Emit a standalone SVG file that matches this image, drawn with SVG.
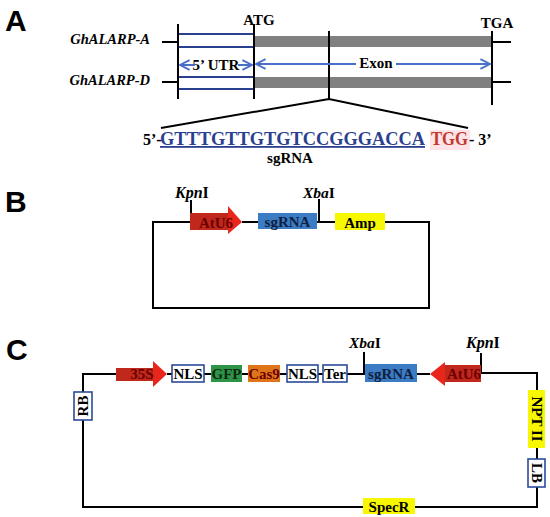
<svg xmlns="http://www.w3.org/2000/svg" width="550" height="517" viewBox="0 0 550 517">
<style>
.lbl{font-family:"Liberation Sans",Arial,sans-serif;font-weight:bold;font-size:30px;fill:#000}
.t{font-family:"Liberation Serif","Times New Roman",serif;font-weight:bold;font-size:15px;fill:#000}
.ti{font-family:"Liberation Serif","Times New Roman",serif;font-weight:bold;font-style:italic;font-size:14.5px;fill:#000}
.ln{stroke:#000;stroke-width:2;fill:none}
.bl{stroke:#2b3f8f;stroke-width:2}
.ar{stroke:#4a6fc8;stroke-width:2;fill:none}
.box{stroke:#2b4a9a;stroke-width:1.6;fill:#fff}
.yl{fill:#f7f700}
</style>
<defs>
<marker id="ah" viewBox="0 0 10 10" refX="9" refY="5" markerWidth="6" markerHeight="6" orient="auto-start-reverse">
<path d="M1,1 L9,5 L1,9" fill="none" stroke="#4a6fc8" stroke-width="1.6"/>
</marker>
</defs>
<text class="lbl" x="5" y="31">A</text>
<text class="lbl" x="5" y="212">B</text>
<text class="lbl" x="6" y="360">C</text>

<g id="panelA">
<g id="geneA">
<text class="ti" x="150" y="44" text-anchor="end">GhALARP-A</text>
<rect x="254" y="36" width="238" height="11" fill="#808080"/>
<line class="bl" x1="178" y1="34" x2="254" y2="34"/>
<line class="bl" x1="178" y1="47" x2="254" y2="47"/>
</g>
<g id="geneD">
<text class="ti" x="150" y="85" text-anchor="end">GhALARP-D</text>
<rect x="254" y="77" width="238" height="11" fill="#808080"/>
<line class="bl" x1="178" y1="77" x2="254" y2="77"/>
<line class="bl" x1="178" y1="89" x2="254" y2="89"/>
</g>
<g id="labelsA">
<text class="t" x="259" y="25" text-anchor="middle">ATG</text>
<text class="t" x="497" y="28" text-anchor="middle">TGA</text>
<text class="t" x="216" y="70" text-anchor="middle">5’ UTR</text>
<text class="t" x="376" y="68" text-anchor="middle">Exon</text>
</g>
<g id="seq">
<text class="t" x="143" y="145" style="font-size:16px">5’-</text>
<text class="t" x="160" y="145" style="font-size:18px;fill:#2b3f8f;text-decoration:underline" textLength="265" lengthAdjust="spacingAndGlyphs">GTTTGTTGTGTCCGGGACCA</text>
<rect x="430" y="130" width="40" height="20" fill="#fde2e8"/>
<text class="t" x="431" y="145" style="font-size:18px;fill:#c0392b" textLength="37" lengthAdjust="spacingAndGlyphs">TGG</text>
<text class="t" x="469" y="145" style="font-size:16px">- 3’</text>
<text class="t" x="290" y="163" text-anchor="middle">sgRNA</text>
</g>
</g>

<g id="connectors">
<line class="ln" x1="162" y1="42" x2="178" y2="42"/>
<line class="ln" x1="162" y1="82" x2="178" y2="82"/>
<line class="ln" x1="492" y1="42" x2="511" y2="42"/>
<line class="ln" x1="492" y1="82" x2="511" y2="82"/>
<line class="ln" x1="178" y1="24" x2="178" y2="99"/>
<line class="ln" x1="254" y1="24" x2="254" y2="99"/>
<line class="ln" x1="329" y1="31" x2="329" y2="99"/>
<line class="ln" x1="492" y1="31" x2="492" y2="105"/>
<polyline class="ln" points="161,128 329,99 468,128"/>
<line class="ar" x1="180" y1="65" x2="195" y2="65" marker-start="url(#ah)"/>
<line class="ar" x1="238" y1="65" x2="252" y2="65" marker-end="url(#ah)"/>
<line class="ar" x1="256" y1="64" x2="356" y2="64" marker-start="url(#ah)"/>
<line class="ar" x1="396" y1="64" x2="490" y2="64" marker-end="url(#ah)"/>
<!-- B loop -->
<polyline class="ln" points="190,222 153,222 153,308 429,308 429,222 385,222"/>
<line class="ln" x1="242" y1="222" x2="258" y2="222"/>
<line class="ln" x1="317" y1="222" x2="335" y2="222"/>
<line class="ln" x1="191" y1="200" x2="191" y2="214"/>
<polyline class="ln" points="319,199 319,222"/>
<!-- C loop -->
<polyline class="ln" points="116,374 83,374 83,392"/>
<polyline class="ln" points="83,420 83,507 363,507"/>
<polyline class="ln" points="415,507 537,507 537,487"/>
<line class="ln" x1="537" y1="459" x2="537" y2="448"/>
<polyline class="ln" points="537,390 537,373 480,373"/>
<line class="ln" x1="167" y1="374" x2="172" y2="374"/>
<line class="ln" x1="204" y1="374" x2="211" y2="374"/>
<line class="ln" x1="242" y1="374" x2="248" y2="374"/>
<line class="ln" x1="280" y1="374" x2="287" y2="374"/>
<line class="ln" x1="318" y1="374" x2="323" y2="374"/>
<line class="ln" x1="347" y1="374" x2="365" y2="374"/>
<line class="ln" x1="417" y1="374" x2="430" y2="374"/>
<line class="ln" x1="364" y1="352" x2="364" y2="374"/>
<line class="ln" x1="481" y1="353" x2="481" y2="373"/>
</g>

<g id="panelB">
<g id="B-AtU6">
<rect x="190" y="213" width="38" height="17" fill="#c0281c"/>
<polygon points="228,206 242,222 228,234" fill="#e8261c"/>
<text class="t" x="216" y="228" text-anchor="middle" style="fill:#6a0000">AtU6</text>
</g>
<g id="B-sgRNA">
<rect x="258" y="213" width="59" height="16" fill="#3b7cc4"/>
<text class="t" x="287.5" y="227" text-anchor="middle" style="fill:#102040">sgRNA</text>
</g>
<g id="B-Amp">
<rect class="yl" x="335" y="213" width="50" height="17"/>
<text class="t" x="360" y="228" text-anchor="middle">Amp</text>
</g>
<text class="ti" x="175" y="198" style="font-size:16px"><tspan>Kpn</tspan><tspan font-style="normal">I</tspan></text>
<text class="ti" x="303" y="198" style="font-size:15.5px"><tspan>Xba</tspan><tspan font-style="normal">I</tspan></text>
</g>

<g id="panelC">
<g id="C-35S">
<rect x="116" y="368" width="37" height="13" fill="#c0281c"/>
<polygon points="153,361 167,374 153,387" fill="#e8261c"/>
<text class="t" x="142" y="379" text-anchor="middle" style="fill:#6a0000">35S</text>
</g>
<g id="C-NLS1">
<rect class="box" x="172" y="365" width="32" height="17"/>
<text class="t" x="188" y="379" text-anchor="middle">NLS</text>
</g>
<g id="C-GFP">
<rect x="211" y="365" width="31" height="17" fill="#2e9447"/>
<text class="t" x="226.5" y="379" text-anchor="middle" style="fill:#0f2a12">GFP</text>
</g>
<g id="C-Cas9">
<rect x="248" y="365" width="32" height="17" fill="#e07418"/>
<text class="t" x="264" y="379" text-anchor="middle" style="fill:#6a0000">Cas9</text>
</g>
<g id="C-NLS2">
<rect class="box" x="287" y="365" width="31" height="17"/>
<text class="t" x="302.5" y="379" text-anchor="middle">NLS</text>
</g>
<g id="C-Ter">
<rect class="box" x="323" y="365" width="24" height="17"/>
<text class="t" x="335" y="379" text-anchor="middle">Ter</text>
</g>
<g id="C-sgRNA">
<rect x="365" y="364" width="52" height="18" fill="#3b7cc4"/>
<text class="t" x="391" y="379" text-anchor="middle" style="fill:#102040">sgRNA</text>
</g>
<g id="C-AtU6">
<rect x="445" y="365" width="36" height="17" fill="#c0281c"/>
<polygon points="445,362 430,374 445,386" fill="#e8261c"/>
<text class="t" x="464" y="379" text-anchor="middle" style="fill:#6a0000">AtU6</text>
</g>
<g id="C-RB">
<rect class="box" x="74" y="392" width="18" height="28"/>
<text class="t" x="0" y="0" text-anchor="middle" transform="translate(88,406) rotate(-90)">RB</text>
</g>
<g id="C-NPT">
<rect class="yl" x="528" y="390" width="17" height="58"/>
<text class="t" x="0" y="0" text-anchor="middle" transform="translate(531.5,419) rotate(90)">NPT II</text>
</g>
<g id="C-LB">
<rect class="box" x="528" y="459" width="17" height="28"/>
<text class="t" x="0" y="0" text-anchor="middle" transform="translate(531.5,473) rotate(90)">LB</text>
</g>
<g id="C-SpecR">
<rect class="yl" x="363" y="498" width="52" height="16"/>
<text class="t" x="389" y="512" text-anchor="middle">SpecR</text>
</g>
<text class="ti" x="466" y="348" style="font-size:16px"><tspan>Kpn</tspan><tspan font-style="normal">I</tspan></text>
<text class="ti" x="349" y="348" style="font-size:15.5px"><tspan>Xba</tspan><tspan font-style="normal">I</tspan></text>
</g>
</svg>
